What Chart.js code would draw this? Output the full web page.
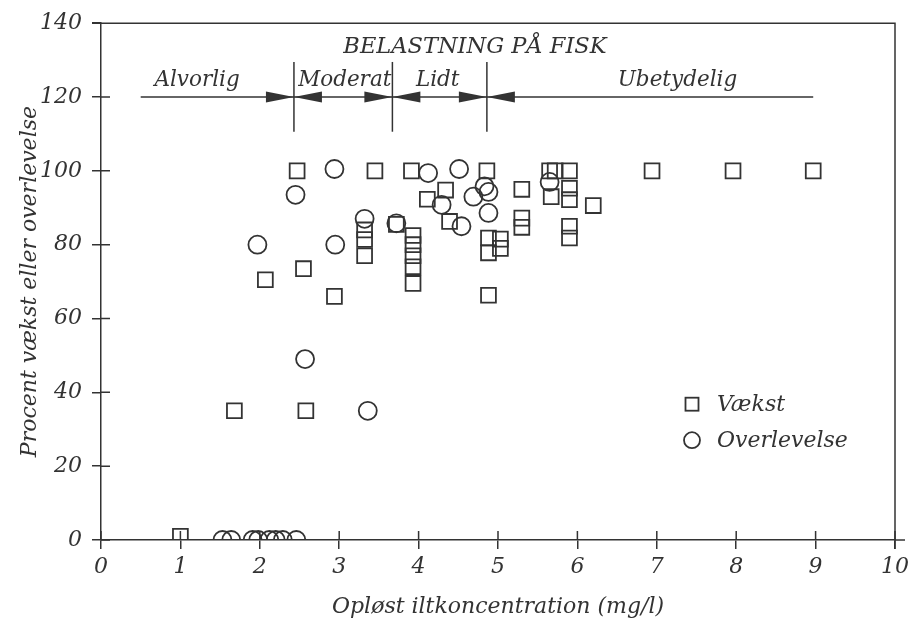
<!DOCTYPE html>
<html>
<head>
<meta charset="utf-8">
<script src="https://cdn.jsdelivr.net/npm/chart.js@4/dist/chart.umd.min.js"></script>
<style>
  html, body { margin: 0; padding: 0; background: #fff; }
  #wrap { width: 924px; height: 623px; }
</style>
</head>
<body>
<div id="wrap"><canvas id="fishChart"></canvas></div>
<script>
// Vækst (squares)
const growthX = [1.0, 1.68, 2.07, 2.47, 2.55, 2.58, 2.94, 3.32, 3.32, 3.32, 3.45, 3.72, 3.91,
  3.93, 3.93, 3.93, 3.93, 3.93, 4.11, 4.34, 4.39, 4.86, 4.88, 4.88, 4.88, 5.03, 5.03,
  5.3, 5.3, 5.3, 5.65, 5.72, 5.67, 5.9, 5.9, 5.9, 5.9, 5.9, 6.2, 6.94, 7.96, 8.97];
const growthY = [1, 35, 70.5, 100, 73.5, 35, 66, 84, 81.4, 77, 100, 85.5, 100,
  82.5, 80, 77, 74, 69.5, 92.3, 94.8, 86.3, 100, 81.8, 77.8, 66.3, 81.5, 79,
  95, 87.2, 84.7, 100, 100, 93, 100, 95.3, 92.2, 85, 81.8, 90.6, 100, 100, 100];

// Overlevelse (circles)
const survivalX = [1.53, 1.64, 1.91, 1.98, 2.12, 2.2, 2.29, 2.46, 1.97, 2.45, 2.57, 2.94,
  2.95, 3.32, 3.36, 3.72, 4.12, 4.29, 4.51, 4.54, 4.69, 4.83, 4.88, 4.88, 5.65];
const survivalY = [0, 0, 0, 0, 0, 0, 0, 0, 80, 93.5, 49, 100.5,
  80, 87, 35, 85.8, 99.4, 90.8, 100.5, 85, 93, 95.8, 94.3, 88.6, 97];

const seriesNames = ["Vækst", "Overlevelse"];

// Belastning på fisk: zone borders and names (x in mg/l)
const zoneEdges = [0.5, 2.43, 3.67, 4.86, 8.97];
const zoneNames = ["Alvorlig", "Moderat", "Lidt", "Ubetydelig"];
const zoneLabelX = [1.21, 3.07, 4.24, 7.26];
const headerText = "BELASTNING PÅ FISK";
const headerX = 4.71;

const ink = "#333";
const serif = "'DejaVu Serif', 'Liberation Serif', serif";

Chart.defaults.font.family = serif;
Chart.defaults.color = ink;

const toPoints = (xs, ys) => xs.map((x, i) => ({ x: x, y: ys[i] }));

// annotations, frame, inner tick marks and legend
const fishAnnotations = {
  id: "fishAnnotations",
  afterDraw(chart) {
    const { ctx, chartArea: area, scales: { x, y } } = chart;
    ctx.save();
    ctx.strokeStyle = ink;
    ctx.fillStyle = ink;
    ctx.lineWidth = 1.5;

    // top and right frame
    ctx.beginPath();
    ctx.moveTo(area.left - 9, area.top);
    ctx.lineTo(area.right, area.top);
    ctx.lineTo(area.right, area.bottom + 9);
    ctx.stroke();

    // x axis runs a little past 10
    ctx.beginPath();
    ctx.moveTo(area.right, area.bottom);
    ctx.lineTo(area.right + 10, area.bottom);
    ctx.stroke();

    // inner half of tick marks
    ctx.beginPath();
    x.ticks.forEach((t) => {
      const px = x.getPixelForValue(t.value);
      ctx.moveTo(px, area.bottom);
      ctx.lineTo(px, area.bottom - 9);
    });
    y.ticks.forEach((t) => {
      const py = y.getPixelForValue(t.value);
      if (t.value === 140) return;
      ctx.moveTo(area.left, py);
      ctx.lineTo(area.left + 9, py);
    });
    ctx.stroke();

    // zone line with dividers and arrowheads
    const lineY = y.getPixelForValue(120);
    ctx.beginPath();
    ctx.moveTo(x.getPixelForValue(zoneEdges[0]), lineY);
    ctx.lineTo(x.getPixelForValue(zoneEdges[zoneEdges.length - 1]), lineY);
    ctx.stroke();

    const divTop = y.getPixelForValue(129.5);
    const divBottom = y.getPixelForValue(110.6);
    zoneEdges.slice(1, -1).forEach((edge) => {
      const px = x.getPixelForValue(edge);
      ctx.beginPath();
      ctx.moveTo(px, divTop);
      ctx.lineTo(px, divBottom);
      ctx.stroke();
      [-1, 1].forEach((side) => {
        ctx.beginPath();
        ctx.moveTo(px, lineY);
        ctx.lineTo(px + side * 28, lineY - 5.5);
        ctx.lineTo(px + side * 28, lineY + 5.5);
        ctx.closePath();
        ctx.fill();
      });
    });

    ctx.textAlign = "center";
    ctx.textBaseline = "middle";
    ctx.font = "italic 21.5px " + serif;
    zoneNames.forEach((name, i) => {
      ctx.fillText(name, x.getPixelForValue(zoneLabelX[i]), y.getPixelForValue(124.6));
    });
    ctx.font = "italic 22.5px " + serif;
    ctx.fillText(headerText, x.getPixelForValue(headerX), y.getPixelForValue(133.4));

    // legend
    const lx = area.left + 591;
    const rows = [area.top + 381, area.top + 417];
    ctx.lineWidth = 1.8;
    ctx.strokeRect(lx - 6.5, rows[0] - 6.5, 13, 13);
    ctx.beginPath();
    ctx.arc(lx, rows[1], 8, 0, Math.PI * 2);
    ctx.stroke();
    ctx.font = "italic 22px " + serif;
    ctx.textAlign = "left";
    seriesNames.forEach((name, i) => {
      ctx.fillText(name, lx + 25, rows[i] + 1);
    });
    ctx.restore();
  },
};

const axisFont = { size: 22, style: "italic" };
const titleFont = { size: 22, style: "italic" };

new Chart(document.getElementById("fishChart"), {
  type: "scatter",
  data: {
    datasets: [
      {
        label: seriesNames[0],
        data: toPoints(growthX, growthY),
        pointStyle: "rect",
        pointRadius: 10.5,
        pointBorderWidth: 1.8,
        borderColor: ink,
        backgroundColor: "rgba(0,0,0,0)",
      },
      {
        label: seriesNames[1],
        data: toPoints(survivalX, survivalY),
        pointStyle: "circle",
        pointRadius: 9,
        pointBorderWidth: 1.8,
        borderColor: ink,
        backgroundColor: "rgba(0,0,0,0)",
      },
    ],
  },
  options: {
    responsive: true,
    maintainAspectRatio: false,
    animation: false,
    layout: { padding: { top: 21, right: 29, left: 0, bottom: 0 } },
    plugins: {
      legend: { display: false },
      tooltip: { enabled: false },
    },
    scales: {
      x: {
        type: "linear",
        min: 0,
        max: 10,
        afterFit(scale) {
          scale.height = 83;
        },
        ticks: { stepSize: 1, padding: 5, maxRotation: 0, font: axisFont, color: ink },
        grid: { drawOnChartArea: false, tickLength: 9, color: ink, lineWidth: 1.5 },
        border: { color: ink, width: 1.5 },
        title: {
          display: true,
          text: "Opløst iltkoncentration (mg/l)",
          font: titleFont,
          color: ink,
          padding: { top: 0, bottom: 3 },
        },
      },
      y: {
        min: 0,
        max: 140,
        afterFit(scale) {
          scale.width = 101;
        },
        ticks: { stepSize: 20, padding: 10, font: axisFont, color: ink },
        grid: { drawOnChartArea: false, tickLength: 9, color: ink, lineWidth: 1.5 },
        border: { color: ink, width: 1.5 },
        title: {
          display: true,
          text: "Procent vækst eller overlevelse",
          font: titleFont,
          color: ink,
          padding: { top: 17, bottom: 0 },
        },
      },
    },
  },
  plugins: [fishAnnotations],
});
</script>
</body>
</html>
